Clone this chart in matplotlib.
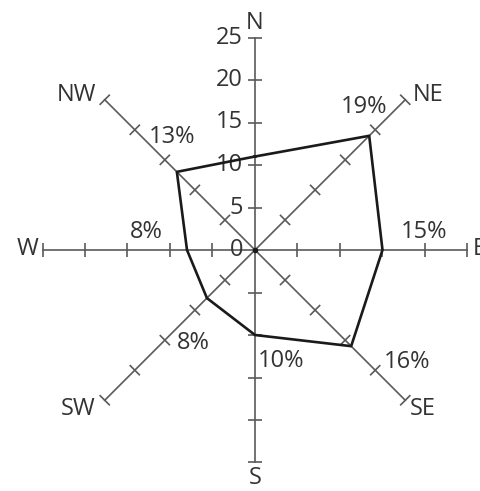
import numpy as np
import matplotlib
matplotlib.use("Agg")
import matplotlib.pyplot as plt
from matplotlib.collections import LineCollection

# wind direction frequencies (%)
directions = ["N", "NE", "E", "SE", "S", "SW", "W", "NW"]
values = [11, 19, 15, 16, 10, 8, 8, 13]
pct_labels = ["", "19%", "15%", "16%", "10%", "8%", "8%", "13%"]
scale_ticks = [0, 5, 10, 15, 20, 25]

plt.rcParams['font.family'] = ['Open Sans', 'DejaVu Sans']

W, H = 481, 491
cx, cy = 255, 250       # centre in pixels
ppu = 8.5               # pixels per percent
rmax = 25
fs = 17

fig = plt.figure(figsize=(W / 100, H / 100), dpi=100)
ax = fig.add_axes([0, 0, 1, 1])
ax.set_xlim(-cx / ppu, (W - cx) / ppu)
ax.set_ylim(-(H - cy) / ppu, cy / ppu)
ax.set_aspect('equal')
ax.axis('off')

# compass angle -> math angle (N up, clockwise)
ang = np.deg2rad(90 - 45 * np.arange(len(directions)))
ux, uy = np.cos(ang), np.sin(ang)

axis_col = "#5a5a5a"
# spokes
for i in range(len(directions)):
    ax.plot([0, rmax * ux[i]], [0, rmax * uy[i]], color=axis_col, lw=1.2, zorder=1)

# ticks perpendicular to each spoke
half = 0.85
segs = []
for i in range(len(directions)):
    px, py = -uy[i], ux[i]
    for t in scale_ticks[1:]:
        x0, y0 = t * ux[i], t * uy[i]
        segs.append([(x0 - half * px, y0 - half * py), (x0 + half * px, y0 + half * py)])
ax.add_collection(LineCollection(segs, colors=axis_col, linewidths=1.2, zorder=1))

# scale numbers on the north spoke
for t in scale_ticks:
    ax.text(-1.4, t, str(t), ha='right', va='center', fontsize=fs, color="#333333")

# polygon
vx = np.array(values) * ux
vy = np.array(values) * uy
ax.plot(np.append(vx, vx[0]), np.append(vy, vy[0]), color="#1a1a1a", lw=1.9, zorder=3)
ax.plot(0, 0, 'o', color="#1a1a1a", ms=3, zorder=4)

# direction labels at the spoke ends (E is cut by the edge, as in the original)
dir_off = {"N": (0, 3, 'center', 'bottom'), "NE": (7, 5, 'left', 'center'),
           "E": (5, 1, 'left', 'center'), "SE": (5, -9, 'left', 'center'),
           "S": (0, -4, 'center', 'top'), "SW": (-9, -9, 'right', 'center'),
           "W": (-4, 1, 'right', 'center'), "NW": (-8, 5, 'right', 'center')}
for i, d in enumerate(directions):
    ox, oy, ha, va = dir_off[d]
    ax.annotate(d, (rmax * ux[i], rmax * uy[i]), xytext=(ox, oy), textcoords='offset pixels',
                ha=ha, va=va, fontsize=fs, color="#333333", annotation_clip=False)

# percentage labels near vertices
pct_off = [(0, 0), (-5, 29), (42, 18), (56, -16), (26, -26), (-14, -45), (-41, 18), (-5, 35)]
for i, lab in enumerate(pct_labels):
    if lab:
        ax.annotate(lab, (vx[i], vy[i]), xytext=pct_off[i], textcoords='offset pixels',
                    ha='center', va='center', fontsize=fs, color="#333333")

fig.savefig("out.png", dpi=100, facecolor="white")
